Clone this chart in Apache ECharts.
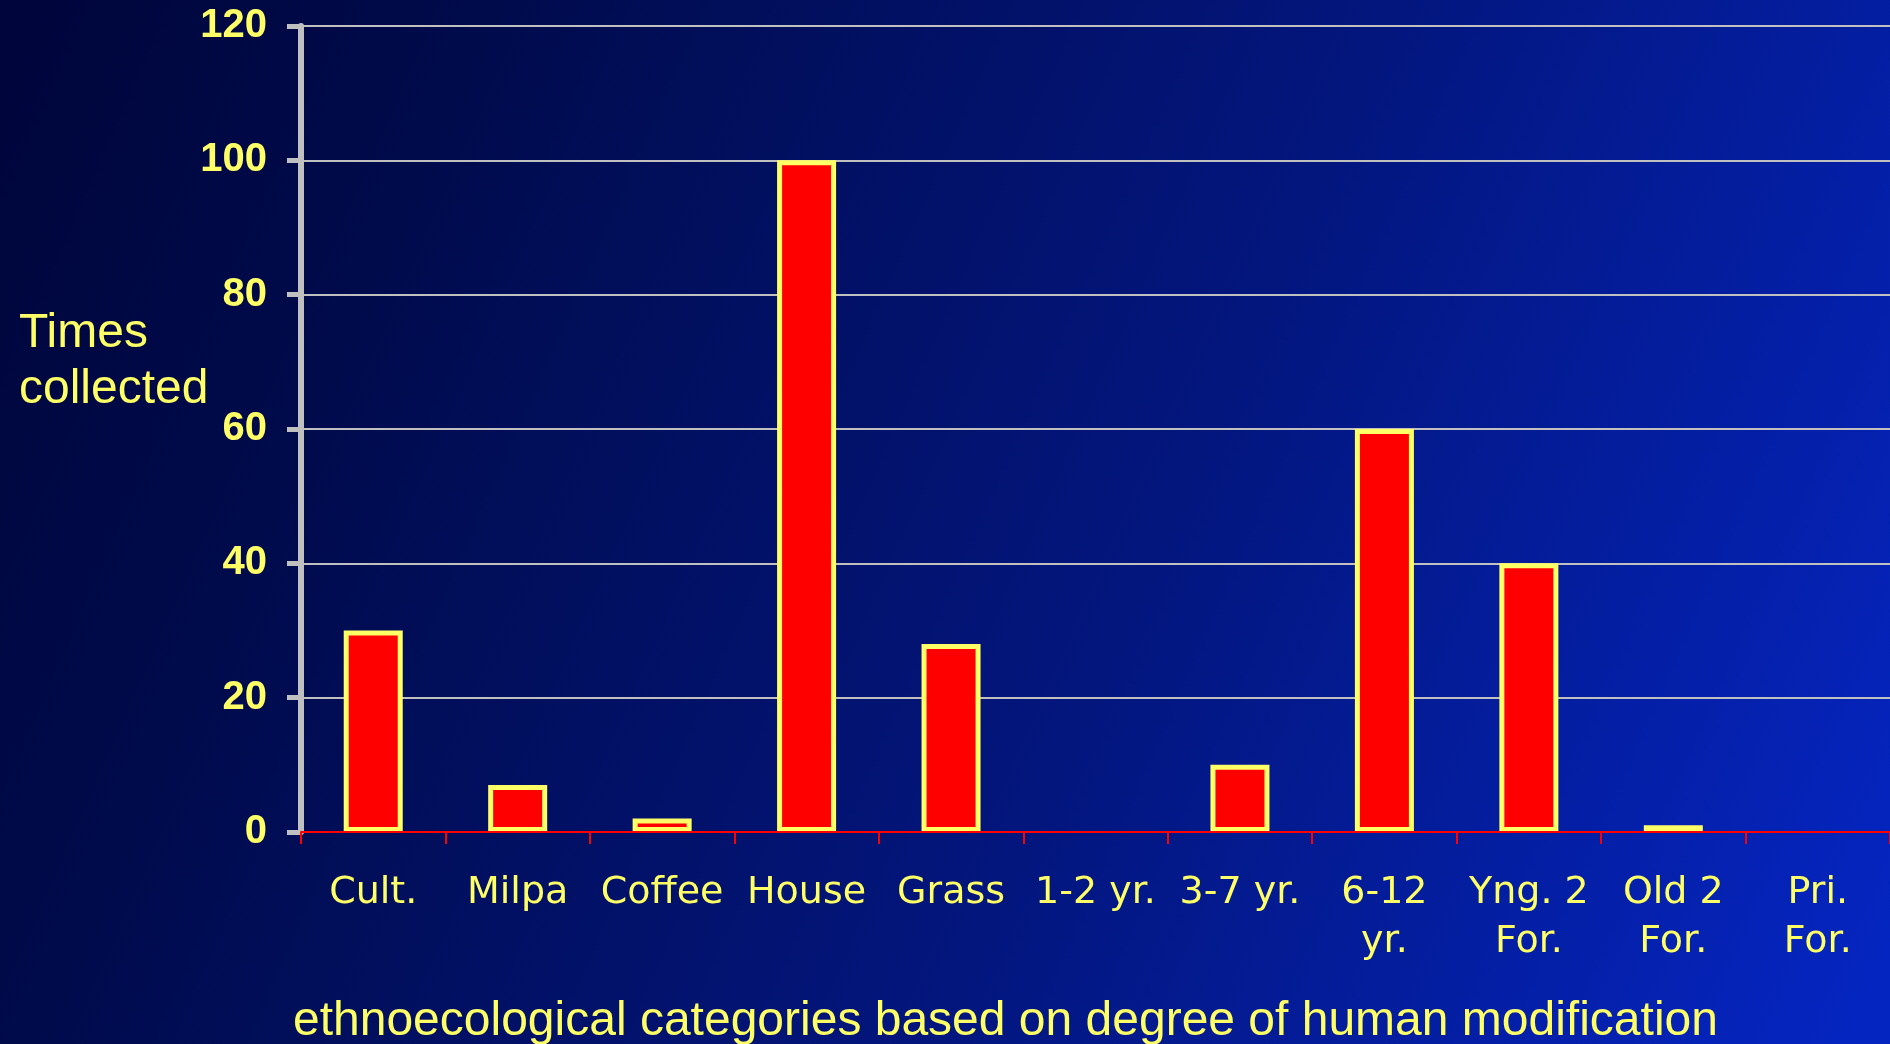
<!DOCTYPE html>
<html>
<head>
<meta charset="utf-8">
<script src="https://cdn.jsdelivr.net/npm/echarts@6/dist/echarts.min.js"></script>
<style>
  html, body { margin: 0; padding: 0; }
  #chart { width: 1890px; height: 1044px; }
</style>
</head>
<body>
<div id="chart"></div>
<script>
// categories as printed under the axis (wrapped ones keep their line break)
const categories = ['Cult.', 'Milpa', 'Coffee', 'House', 'Grass', '1-2 yr.', '3-7 yr.', '6-12\nyr.', 'Yng. 2\nFor.', 'Old 2\nFor.', 'Pri.\nFor.'];
const timesCollected = [30, 7, 2, 100, 28, 0, 10, 60, 40, 1, 0];
const yTicks = [0, 20, 40, 60, 80, 100, 120];

const yAxisTitle = 'Times\ncollected';
const xAxisTitle = 'ethnoecological categories based on degree of human modification';

const yellow = '#ffff66';
const chart = echarts.init(document.getElementById('chart'));

chart.setOption({
    animation: false,
    backgroundColor: {
        type: 'linear',
        x: 0, y: 0.1, x2: 1, y2: 0.9,
        colorStops: [
            { offset: 0, color: '#00063c' },
            { offset: 0.2, color: '#000b4c' },
            { offset: 0.6, color: '#03167e' },
            { offset: 1, color: '#0525c0' }
        ]
    },
    title: [
        {
            text: yAxisTitle,
            left: 14,
            top: 301,
            textStyle: {
                color: yellow,
                fontFamily: 'Liberation Sans',
                fontWeight: 'normal',
                fontSize: 48,
                lineHeight: 56
            }
        },
        {
            text: xAxisTitle,
            left: 288,
            top: 992,
            textStyle: {
                color: yellow,
                fontFamily: 'Liberation Sans',
                fontWeight: 'normal',
                fontSize: 48,
                lineHeight: 50
            }
        }
    ],
    grid: {
        left: 301,
        right: 0,
        top: 26,
        bottom: 212,
        containLabel: false
    },
    xAxis: {
        type: 'category',
        data: categories,
        axisLine: { lineStyle: { color: '#ff0000', width: 2 } },
        axisTick: { show: true, length: 12, lineStyle: { color: '#ff0000', width: 2 } },
        axisLabel: {
            interval: 0,
            margin: 37,
            color: yellow,
            fontFamily: 'DejaVu Sans',
            fontSize: 38,
            lineHeight: 49,
            align: 'center'
        },
        z: 3
    },
    yAxis: {
        type: 'value',
        min: yTicks[0],
        max: yTicks[yTicks.length - 1],
        interval: 20,
        axisLine: { show: true, lineStyle: { color: '#c0c0c0', width: 6 } },
        axisTick: { show: true, length: 14, lineStyle: { color: '#c0c0c0', width: 5 } },
        axisLabel: {
            margin: 34,
            color: yellow,
            fontFamily: 'Liberation Sans',
            fontWeight: 'bold',
            fontSize: 40
        },
        splitLine: { show: true, lineStyle: { color: '#c0c0c0', width: 2 } }
    },
    series: [
        {
            type: 'bar',
            barWidth: 59,
            data: timesCollected.map(function (v) {
                // empty categories show no outline at all
                return v === 0 ? { value: v, itemStyle: { borderWidth: 0 } } : v;
            }),
            itemStyle: {
                color: '#ff0000',
                borderColor: yellow,
                borderWidth: 5
            }
        }
    ]
});
</script>
</body>
</html>
